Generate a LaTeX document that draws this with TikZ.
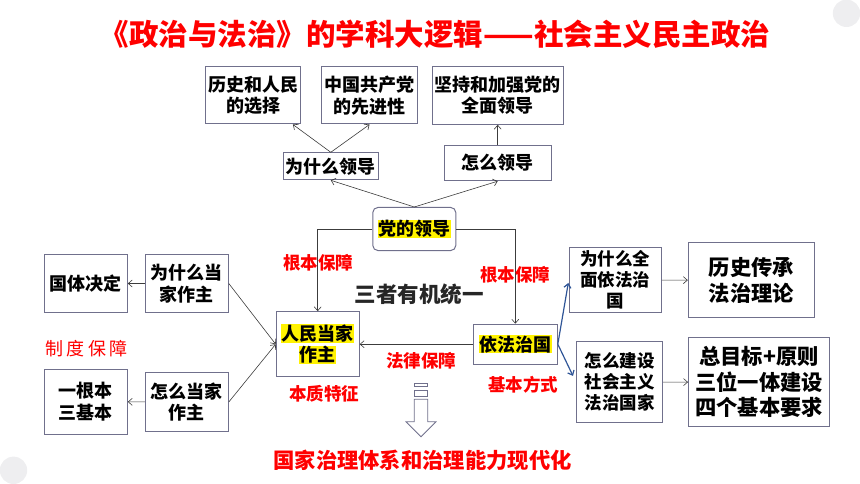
\documentclass[tikz,border=0pt]{standalone}
\usepackage{fontspec}
\setmainfont{Noto Sans CJK SC}
\usetikzlibrary{arrows.meta, positioning}
\definecolor{boxline}{RGB}{112,112,140}
\definecolor{arrowgray}{RGB}{60,60,60}
\definecolor{keyred}{RGB}{255,0,0}
\definecolor{linkblue}{RGB}{47,85,151}
\definecolor{decogray}{RGB}{238,238,240}
\newcommand{\hlt}[1]{{\setlength{\fboxsep}{0.6pt}\colorbox{yellow}{#1}}}

\begin{document}
\begin{tikzpicture}[x=1pt, y=-1pt, >={Straight Barb[length=4pt,width=7pt]},
    box/.style={rectangle, draw=boxline, line width=1pt, fill=white, align=center, inner sep=1pt, font=\bfseries\fontsize{18}{21.5}\selectfont},
    bigbox/.style={box, font=\bfseries\fontsize{21.3}{25.5}\selectfont},
    redlabel/.style={text=keyred, font=\bfseries\fontsize{17.5}{20}\selectfont},
    link/.style={->, draw=arrowgray, line width=0.6pt},
    bluelink/.style={->, draw=linkblue, line width=1.2pt}]
    \useasboundingbox (0,0) rectangle (860,484);
    \fill[decogray] (846.5,13.3) circle (13.7pt);
    \fill[decogray] (13.5,470.3) circle (13.7pt);

    \node (title) at (435,34) [text=keyred, font=\bfseries\fontsize{29.5}{31}\selectfont] {《政治与法治》的学科大逻辑——社会主义民主政治};

    % top: why and how the party leads
    \node (choice) at (253,95.5) [box, minimum width=95, minimum height=57] {历史和人民\\的选择};
    \node (advanced) at (369.5,95.5) [box, minimum width=96, minimum height=57] {中国共产党\\的先进性};
    \node (overall) at (497.7,95.3) [box, minimum width=131, minimum height=58] {坚持和加强党的\\全面领导};
    \node (whylead) at (330.8,166.3) [box, minimum width=95, minimum height=27] {为什么领导};
    \node (howlead) at (497.7,163.2) [box, minimum width=107, minimum height=35] {怎么领导};
    \node (party) at (414.3,229) [box, rounded corners=5pt, minimum width=83, minimum height=43] {\hlt{党的领导}};
    \draw[link] (party.north) -- (whylead.south);
    \draw[link] (party.north) -- (howlead.south);
    \draw[link] (whylead.north) -- (choice.-36);
    \draw[link] (whylead.north) -- (advanced.south);
    \draw[link] (howlead) -- (overall);

    % middle: the three in one
    \node (people) at (317.7,344.2) [box, minimum width=83, minimum height=65] {\hlt{人民当家}\\\hlt{作主}};
    \node (lawrule) at (515.3,344.2) [box, minimum width=84, minimum height=40] {\hlt{依法治国}};
    \draw[link] (party.west) -| (people.north);
    \draw[link] (party.east) -| (lawrule.north);
    \draw[link] (lawrule.west) -- (people.east);
    \node (unity) at (419,294.3) [text=black!85, font=\bfseries\fontsize{21.5}{24}\selectfont] {三者有机统一};
    \node (leftbase) at (318.3,262.3) [redlabel] {根本保障};
    \node (rightbase) at (515,275) [redlabel] {根本保障};
    \node (lawguard) at (421,360.7) [redlabel] {法律保障};
    \node (essence) at (324,394) [redlabel] {本质特征};
    \node (basicway) at (523.3,385) [redlabel] {基本方式};

    % left: people as masters
    \node (whymaster) at (186.8,283.5) [box, minimum width=83, minimum height=58] {为什么当\\家作主};
    \node (howmaster) at (186.8,402) [box, minimum width=83, minimum height=59] {怎么当家\\作主};
    \node (statetype) at (85.8,283.5) [box, minimum width=83, minimum height=58] {国体决定};
    \node (basics) at (85.8,401.7) [box, minimum width=83, minimum height=65] {一根本\\三基本};
    \node (system) at (86.7,348.3) [text=keyred, font=\fontsize{18}{20}\selectfont] {制\hspace{3.5pt}度\hspace{3.5pt}保\hspace{3.5pt}障};
    \draw[link] (whymaster) -- (statetype);
    \draw[link] (howmaster) -- (basics);
    \draw[link] (whymaster.east) -- (people.west);
    \draw[link] (howmaster.east) -- (people.west);

    % right: rule of law
    \node (whylaw) at (615.3,280) [box, minimum width=92, minimum height=65, font=\bfseries\fontsize{17.5}{21}\selectfont] {为什么全\\面依法治\\国};
    \node (howlaw) at (619.5,382.2) [box, minimum width=86, minimum height=81, font=\bfseries\fontsize{17.5}{21}\selectfont] {怎么建设\\社会主义\\法治国家};
    \node (theory) at (751.3,280.3) [bigbox, minimum width=126, minimum height=75] {历史传承\\法治理论};
    \node (goals) at (759,382) [bigbox, minimum width=141, minimum height=89] {总目标+原则\\三位一体建设\\四个基本要求};
    \draw[bluelink, shorten >=3pt] (lawrule.east) -- (whylaw.west);
    \draw[bluelink, shorten >=7pt] (lawrule.east) -- (howlaw.west);
    \draw[link] (whylaw) -- (theory);
    \draw[link] (howlaw) -- (goals);

    % bottom: hollow arrow and aim
    \draw[boxline, fill=white, line width=0.8pt] (414.3,383.3) rectangle (427.7,386.7);
    \draw[boxline, fill=white, line width=0.8pt] (414.3,390) rectangle (427.7,396);
    \draw[boxline, fill=white, line width=0.8pt] (414.3,399.3) -- (414.3,421.7) -- (406,421.7) -- (421,436.7) -- (436,421.7) -- (427.7,421.7) -- (427.7,399.3) -- cycle;
    \node (goal) at (422.5,460) [text=keyred, font=\bfseries\fontsize{21.3}{24}\selectfont] {国家治理体系和治理能力现代化};
\end{tikzpicture}
\end{document}
